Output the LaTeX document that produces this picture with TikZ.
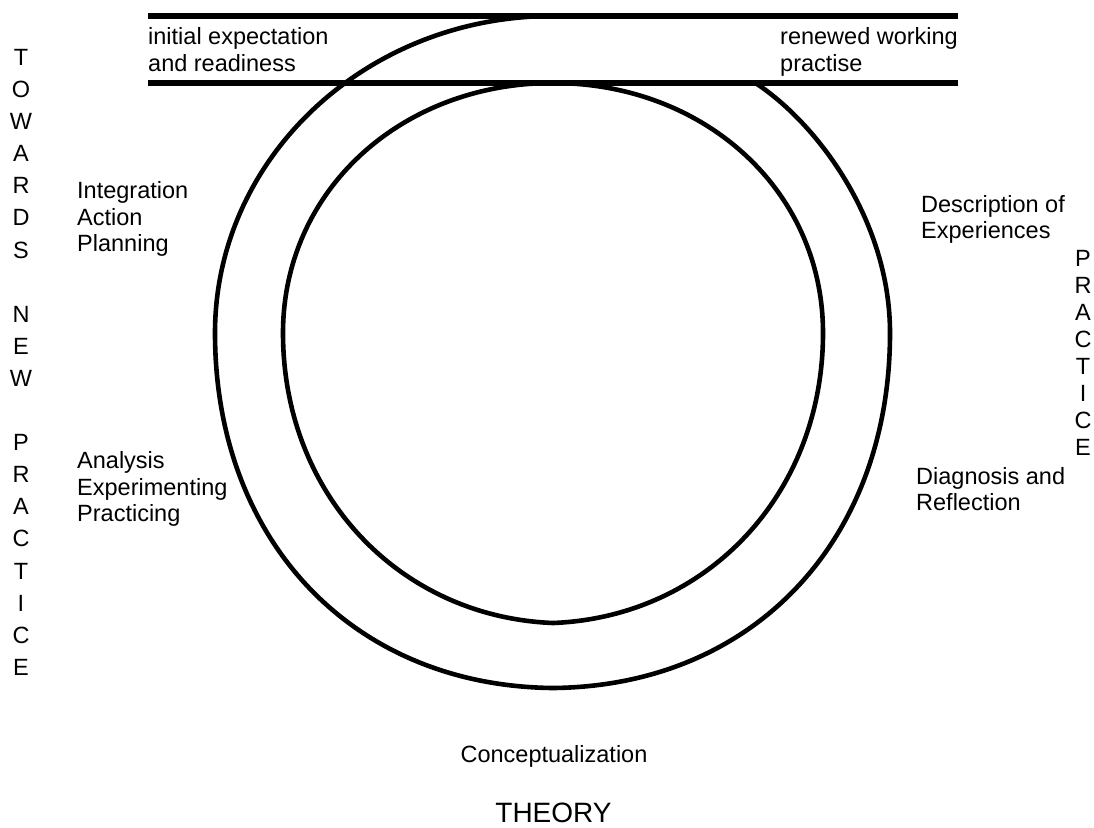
\documentclass[tikz,border=0pt]{standalone}
\usepackage{fontspec}
\setmainfont{Liberation Sans}
\begin{document}
\begin{tikzpicture}[x=1pt,y=-1pt,
  lbl/.style={anchor=base west, inner sep=0pt, font=\fontsize{23.5}{27}\selectfont},
  ctr/.style={anchor=base, inner sep=0pt, font=\fontsize{23.5}{27}\selectfont},
  curve/.style={line width=4.6pt, line join=round},
  band/.style={line width=5.4pt}]
\useasboundingbox (0,0) rectangle (1094,827);

% band lines
\coordinate (t1) at (148,16);
\coordinate (t2) at (958,16);
\coordinate (b1) at (148,83);
\coordinate (b2) at (958,83);
\draw[band] (t1) -- (t2);
\draw[band] (b1) -- (b2);

% outer curve
\coordinate (otop) at (553,16);
\coordinate (oleft) at (215,333);
\coordinate (obot) at (553,688);
\coordinate (oright) at (890,333);
\coordinate (oend) at (757,84);
\draw[curve] (otop) .. controls (366,16) and (215,158) .. (oleft)
  .. controls (215,540) and (352,686) .. (obot)
  .. controls (754,686) and (890,540) .. (oright)
  .. controls (890,220) and (817,124) .. (oend);

% inner curve
\coordinate (itop) at (553,83);
\coordinate (ileft) at (283,333);
\coordinate (ibot) at (553,623);
\coordinate (iright) at (823,333);
\draw[curve] (itop) .. controls (402,83) and (283,190) .. (ileft)
  .. controls (283,495) and (400,617) .. (ibot)
  .. controls (706,617) and (823,495) .. (iright)
  .. controls (823,190) and (704,83) .. (itop);

% labels
\node[lbl] (ie1) at (148,44) {initial expectation};
\node[lbl] (ie2) at (148,71) {and readiness};
\node[lbl] (rw1) at (780,44) {renewed working};
\node[lbl] (rw2) at (780,71) {practise};
\node[lbl] (ia1) at (77,198) {Integration};
\node[lbl] (ia2) at (77,225) {Action};
\node[lbl] (ia3) at (77,251) {Planning};
\node[lbl] (an1) at (77,468) {Analysis};
\node[lbl] (an2) at (77,495) {Experimenting};
\node[lbl] (an3) at (77,521) {Practicing};
\node[lbl] (de1) at (921,212) {Description of};
\node[lbl] (de2) at (921,238) {Experiences};
\node[lbl] (di1) at (916,484) {Diagnosis and};
\node[lbl] (di2) at (916,510) {Reflection};
\node[ctr] (con) at (554,762) {Conceptualization};
\node[ctr, text depth=0pt, font=\fontsize{28}{32}\selectfont] (th) at (553.5,822) {THEORY};

% vertical words
\foreach \ch/\k in {T/0,O/1,W/2,A/3,R/4,D/5,S/6,N/8,E/9,W/10,P/12,R/13,A/14,C/15,T/16,I/17,C/18,E/19}
  \node[ctr] (lv\k) at (21,{65.4+32.1*\k}) {\ch};
\foreach \ch/\k in {P/0,R/1,A/2,C/3,T/4,I/5,C/6,E/7}
  \node[ctr] (rv\k) at (1083,{266.4+27*\k}) {\ch};
\end{tikzpicture}
\end{document}
